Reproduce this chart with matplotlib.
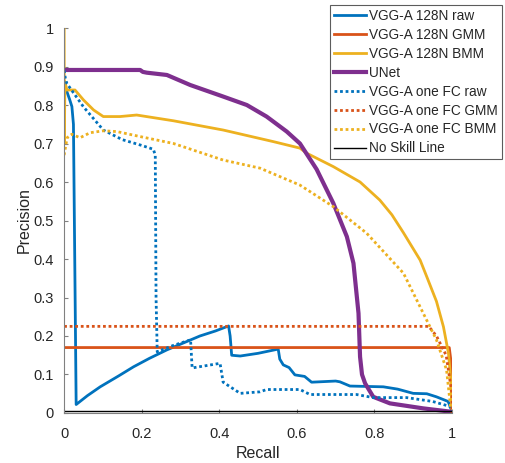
import matplotlib
matplotlib.use('Agg')
import matplotlib.pyplot as plt

plt.rcParams['font.family'] = ['Liberation Sans', 'DejaVu Sans']

# precision-recall curves
raw_r = [0.0, 0.003, 0.007, 0.014, 0.02, 0.024, 0.031, 0.06, 0.093, 0.14, 0.179, 0.22, 0.265, 0.31, 0.35,
         0.39, 0.424, 0.428, 0.432, 0.454, 0.50, 0.552, 0.556, 0.565, 0.58, 0.595, 0.62, 0.638,
         0.70, 0.711, 0.737, 0.823, 0.86, 0.9, 0.935, 0.96, 0.99, 1.0]
raw_p = [0.85, 0.845, 0.835, 0.815, 0.796, 0.75, 0.022, 0.045, 0.068, 0.096, 0.120, 0.142, 0.164, 0.183, 0.200,
         0.213, 0.226, 0.200, 0.150, 0.148, 0.155, 0.166, 0.140, 0.125, 0.118, 0.099, 0.095, 0.080,
         0.083, 0.081, 0.070, 0.068, 0.062, 0.051, 0.050, 0.042, 0.030, 0.005]

gmm_r = [0.0, 0.993, 0.998, 1.0, 1.0]
gmm_p = [0.17, 0.17, 0.13, 0.06, 0.0]

bmm_r = [0.0, 0.0005, 0.002, 0.007, 0.028, 0.05, 0.076, 0.101, 0.144, 0.187, 0.282, 0.41, 0.539,
         0.608, 0.625, 0.694, 0.763, 0.814, 0.845, 0.875, 0.918, 0.935, 0.96, 0.978, 0.991, 0.997, 1.0]
bmm_p = [1.0, 0.70, 0.86, 0.839, 0.839, 0.813, 0.787, 0.77, 0.77, 0.774, 0.759, 0.735, 0.705,
         0.688, 0.675, 0.64, 0.60, 0.553, 0.515, 0.468, 0.397, 0.354, 0.29, 0.224, 0.155, 0.086, 0.003]

unet_r = [0.0, 0.196, 0.203, 0.213, 0.265, 0.325, 0.41, 0.471, 0.522, 0.574, 0.608, 0.651,
          0.694, 0.729, 0.746, 0.759, 0.763, 0.768, 0.776, 0.797, 0.840, 0.926, 1.0]
unet_p = [0.891, 0.891, 0.886, 0.884, 0.878, 0.852, 0.822, 0.80, 0.77, 0.731, 0.70, 0.633,
          0.545, 0.458, 0.389, 0.259, 0.146, 0.10, 0.077, 0.042, 0.025, 0.012, 0.003]

fc_raw_r = [0.0, 0.003, 0.007, 0.05, 0.101, 0.15, 0.2, 0.23, 0.235, 0.237, 0.24, 0.28, 0.326, 0.33,
            0.36, 0.402, 0.41, 0.454, 0.505, 0.522, 0.608, 0.634, 0.754, 0.797, 0.883, 0.95, 0.995, 1.0]
fc_raw_p = [0.89, 0.87, 0.856, 0.795, 0.735, 0.71, 0.695, 0.685, 0.67, 0.30, 0.159, 0.175, 0.19, 0.117,
            0.122, 0.129, 0.08, 0.051, 0.055, 0.061, 0.061, 0.048, 0.048, 0.04, 0.04, 0.03, 0.017, 0.005]

fc_gmm_r = [0.0, 0.94, 0.96, 0.985, 1.0, 1.0]
fc_gmm_p = [0.225, 0.225, 0.2, 0.15, 0.05, 0.0]

fc_bmm_r = [0.0, 0.0077, 0.0198, 0.041, 0.067, 0.101, 0.136, 0.196, 0.282, 0.41, 0.505,
            0.608, 0.694, 0.78, 0.875, 0.926, 0.960, 0.986, 0.997]
fc_bmm_p = [0.67, 0.715, 0.724, 0.715, 0.728, 0.733, 0.731, 0.718, 0.70, 0.657, 0.636,
            0.592, 0.536, 0.467, 0.363, 0.259, 0.190, 0.112, 0.01]

no_skill_r = [0.0, 1.0]
no_skill_p = [0.004, 0.004]

blue = '#0072BD'
orange = '#D95319'
yellow = '#EDB120'
purple = '#7E2F8E'
dot = (0, (1, 1))

fig = plt.figure(figsize=(5.05, 4.63), dpi=100)
ax = fig.add_axes([0.127, 0.108, 0.768, 0.8315])

ax.plot(raw_r, raw_p, color=blue, lw=2, label='VGG-A 128N raw')
ax.plot(gmm_r, gmm_p, color=orange, lw=2, label='VGG-A 128N GMM')
ax.plot(bmm_r, bmm_p, color=yellow, lw=2, label='VGG-A 128N BMM')
ax.plot(unet_r, unet_p, color=purple, lw=3, label='UNet')
ax.plot(fc_raw_r, fc_raw_p, color=blue, lw=2, ls=dot, label='VGG-A one FC raw')
ax.plot(fc_gmm_r, fc_gmm_p, color=orange, lw=2, ls=dot, label='VGG-A one FC GMM')
ax.plot(fc_bmm_r, fc_bmm_p, color=yellow, lw=2, ls=dot, label='VGG-A one FC BMM')
ax.plot(no_skill_r, no_skill_p, color='black', lw=1, label='No Skill Line')

ax.set_xlim(0, 1)
ax.set_ylim(0, 1)
ax.set_xticks([0, 0.2, 0.4, 0.6, 0.8, 1])
ax.set_xticklabels(['0', '0.2', '0.4', '0.6', '0.8', '1'])
ax.set_yticks([i / 10 for i in range(11)])
ax.set_yticklabels(['0'] + ['%.1f' % (i / 10) for i in range(1, 10)] + ['1'])
ax.spines['top'].set_visible(False)
ax.spines['right'].set_visible(False)
for s in ['left', 'bottom']:
    ax.spines[s].set_color('#808080')
    ax.spines[s].set_linewidth(0.8)
ax.tick_params(direction='in', length=3, colors='#808080', labelcolor='#262626', labelsize=10.5)
ax.tick_params(axis='x', pad=10)
ax.tick_params(axis='y', pad=7.5)
ax.set_xlabel('Recall', fontsize=11.5, color='#262626', labelpad=4)
ax.set_ylabel('Precision', fontsize=11.5, color='#262626', labelpad=1.5)

leg = ax.legend(loc='upper right', bbox_to_anchor=(502 / 505, 1 - 5 / 463),
                bbox_transform=fig.transFigure, fontsize=9.8, frameon=True,
                fancybox=False, handlelength=2.3, handletextpad=0.25, borderpad=0.3,
                labelspacing=0.36, borderaxespad=0)
leg.get_frame().set_edgecolor('#333333')
leg.get_frame().set_linewidth(0.8)
for t in leg.get_texts():
    t.set_color('#262626')

fig.savefig('out.png', dpi=100)
